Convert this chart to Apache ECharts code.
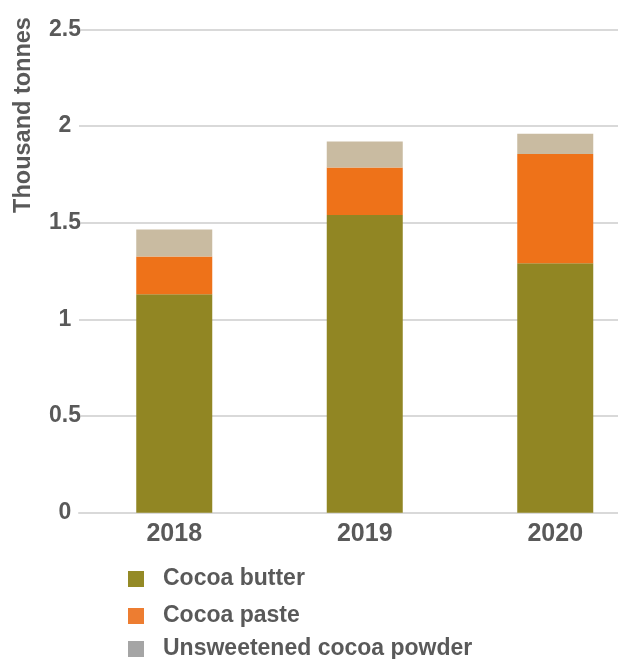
<!DOCTYPE html>
<html>
<head>
<meta charset="utf-8">
<script src="https://cdn.jsdelivr.net/npm/echarts@6/dist/echarts.min.js"></script>
<style>
  html, body { margin: 0; padding: 0; background: #fff; }
  #chart { width: 618px; height: 659px; }
</style>
</head>
<body>
<div id="chart"></div>
<script>
// Cocoa product volumes by year (thousand tonnes)
const years = ['2018', '2019', '2020'];
const cocoaButter = [1.13, 1.54, 1.29];
const cocoaPaste = [0.195, 0.245, 0.565];
const cocoaPowder = [0.14, 0.135, 0.105];
const seriesNames = ['Cocoa butter', 'Cocoa paste', 'Unsweetened cocoa powder'];
const yTicks = [0, 0.5, 1, 1.5, 2, 2.5];

const textColor = '#595959';
const font = '"Liberation Sans", Arial, sans-serif';
const barColors = ['#918623', '#ee7219', '#c9bba1'];
const legendColors = ['#948a26', '#ed7d31', '#a5a5a5'];
const legendTops = [567, 604, 637];

const chart = echarts.init(document.getElementById('chart'));

const values = [cocoaButter, cocoaPaste, cocoaPowder];

chart.setOption({
  animation: false,
  backgroundColor: '#fff',
  grid: {
    left: 79, top: 29.3, bottom: 146.3, width: 571.5,
    containLabel: false, outerBoundsMode: 'none'
  },
  xAxis: {
    type: 'category',
    data: years,
    axisTick: { show: false },
    axisLine: { show: true, lineStyle: { color: '#d9d9d9', width: 2 } },
    axisLabel: {
      color: textColor, fontFamily: font, fontWeight: 'bold', fontSize: 25, margin: 9
    }
  },
  yAxis: {
    type: 'value',
    min: yTicks[0],
    max: yTicks[yTicks.length - 1],
    interval: 0.5,
    axisLine: { show: false },
    axisTick: { show: false },
    splitLine: { lineStyle: { color: '#d9d9d9', width: 2 } },
    axisLabel: {
      color: textColor, fontFamily: font, fontWeight: 'bold', fontSize: 23,
      align: 'center', margin: 14,
      padding: [0, 0, 8, 0],
      backgroundColor: '#fff'
    }
  },
  legend: seriesNames.map((name, i) => ({
    data: [{ name: name, itemStyle: { color: legendColors[i] } }],
    orient: 'vertical',
    left: 128,
    top: legendTops[i],
    padding: 0,
    itemWidth: 16,
    itemHeight: 16,
    icon: 'rect',
    selectedMode: false,
    textStyle: {
      color: textColor, fontFamily: font, fontWeight: 'bold', fontSize: 23,
      lineHeight: 24, padding: [0, 0, 0, 14]
    }
  })),
  graphic: [{
    type: 'text',
    x: 24,
    y: 115,
    rotation: Math.PI / 2,
    style: {
      text: 'Thousand tonnes',
      fill: textColor,
      font: 'bold 23.5px "Liberation Sans", Arial, sans-serif',
      align: 'center',
      verticalAlign: 'middle'
    }
  }],
  series: seriesNames.map((name, i) => ({
    name: name,
    type: 'bar',
    stack: 'total',
    barWidth: 76,
    data: values[i],
    itemStyle: { color: barColors[i] }
  }))
});
</script>
</body>
</html>
